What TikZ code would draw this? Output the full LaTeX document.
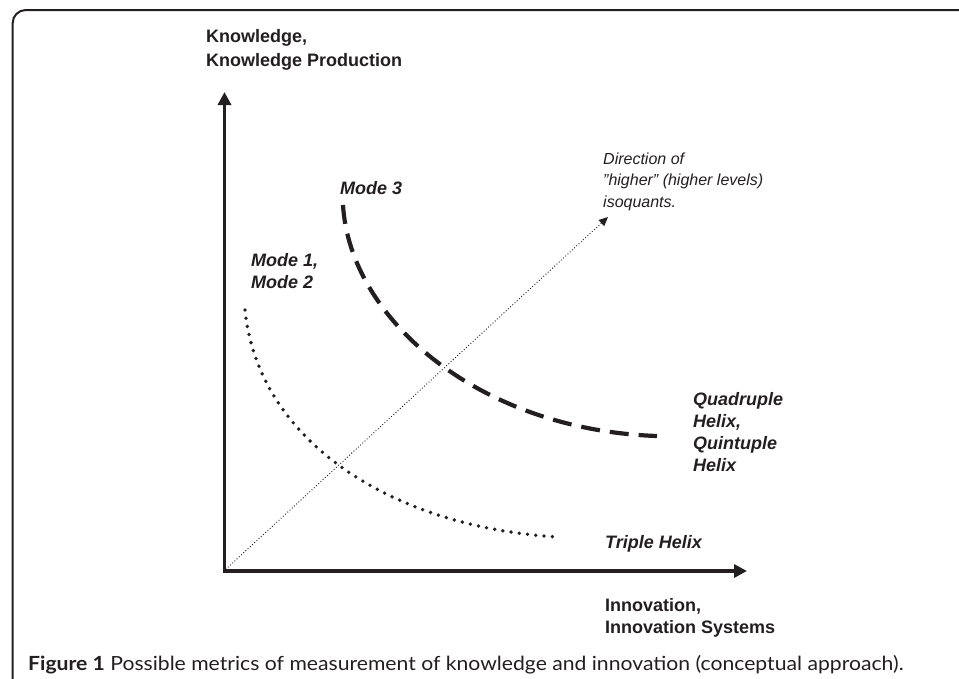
\documentclass[tikz,border=0pt]{standalone}
\usepackage{fontspec}
\setmainfont{Liberation Sans}
\newfontfamily\capfont{Lato}
\usetikzlibrary{arrows.meta}
\definecolor{ink}{RGB}{35,31,32}
\begin{document}
\begin{tikzpicture}[x=1pt,y=-1pt,
  lab/.style={inner sep=0pt, anchor=base west, align=left, text=ink},
  bigb/.style={lab, font=\fontsize{18}{24}\selectfont\bfseries},
  bigbi/.style={lab, font=\fontsize{18}{22}\selectfont\bfseries\itshape},
  smalli/.style={lab, font=\fontsize{16}{21.5}\selectfont\itshape},
  axis/.style={draw=ink, line width=3.5pt, line join=miter,
     {Triangle[length=13pt,width=13pt]}-{Triangle[length=13pt,width=13pt]}},
  dotcurve/.style={draw=ink, line width=3.8pt, line cap=round, dash pattern=on 0pt off 8.3pt},
  dashcurve/.style={draw=ink, line width=4.2pt, dash pattern=on 19pt off 10pt},
  diag/.style={draw=ink, line width=1.3pt, line cap=round, dash pattern=on 0pt off 3pt,
     -{Triangle[length=9pt,width=8pt]}},
  frame/.style={draw=ink, line width=2pt, rounded corners=13pt}]
\useasboundingbox (0,0) rectangle (959,678);
% frame
\draw[frame] (12.7,700) -- (12.7,10) -- (975,10);
% axes
\coordinate (O) at (224.5,571);
\coordinate (ytip) at (224.5,92);
\coordinate (xtip) at (747,571);
\draw[axis] (ytip) -- (O) -- (xtip);
% curves
\coordinate (d1) at (245,310);
\coordinate (d2) at (558,537);
\draw[dotcurve] (d1) .. controls (258,440) and (390,527) .. (d2);
\coordinate (m1) at (343,205);
\coordinate (m2) at (657,436);
\draw[dashcurve] (m1) .. controls (350,320) and (480,430) .. (m2);
% direction arrow
\coordinate (dstart) at (226,569);
\coordinate (dtip) at (608,217);
\draw[diag] (dstart) -- (dtip);
% labels (anchor = baseline of the last line)
\node[bigb] (ylab) at (206,66) {Knowledge,\\Knowledge Production};
\node[bigb, font=\fontsize{18}{22}\selectfont\bfseries] (xlab) at (605,633) {Innovation,\\Innovation Systems};
\node[bigbi] (mode3) at (340,194) {Mode 3};
\node[bigbi] (mode12) at (251,288) {Mode 1,\\Mode 2};
\node[bigbi] (quad) at (693,471) {Quadruple\\Helix,\\Quintuple\\Helix};
\node[bigbi] (triple) at (605,548) {Triple Helix};
\node[smalli] (dir) at (603,207) {Direction of\\"higher" (higher levels)\\isoquants.};
\node[lab, font=\capfont\fontsize{19.5}{22}\selectfont] (cap) at (28,670)
  {\scalebox{1.085}[1]{\textbf{Figure 1} Possible metrics of measurement of knowledge and innovation (conceptual approach).}};
\end{tikzpicture}
\end{document}
